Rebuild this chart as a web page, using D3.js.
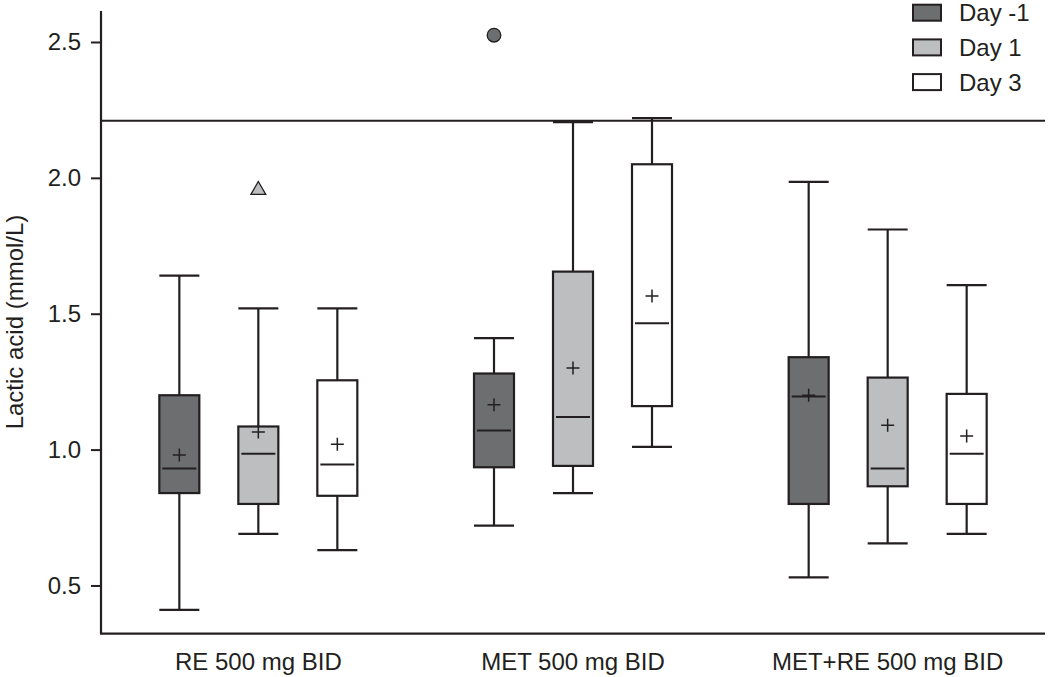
<!DOCTYPE html>
<html>
<head>
<meta charset="utf-8">
<script src="https://cdn.jsdelivr.net/npm/d3@7"></script>
<style>
  body { margin: 0; background: #fff; }
  svg { display: block; font-family: "Liberation Sans", Arial, Helvetica, sans-serif; }
</style>
</head>
<body>
<svg id="chart" width="1048" height="677"></svg>
<script>
// ---- data ----
const groups = ["RE 500 mg BID", "MET 500 mg BID", "MET+RE 500 mg BID"];
const days = ["Day -1", "Day 1", "Day 3"];
const yTicks = [0.5, 1.0, 1.5, 2.0, 2.5];
const refLine = 2.21;
// per group: one entry per day
const whiskerLow  = [[0.41, 0.69, 0.63], [0.72, 0.84, 1.01], [0.53, 0.655, 0.69]];
const q1          = [[0.84, 0.80, 0.83], [0.935, 0.94, 1.16], [0.80, 0.865, 0.80]];
const median      = [[0.93, 0.985, 0.945], [1.07, 1.12, 1.465], [1.195, 0.93, 0.985]];
const mean        = [[0.98, 1.065, 1.02], [1.165, 1.30, 1.565], [1.20, 1.09, 1.05]];
const q3          = [[1.20, 1.085, 1.255], [1.28, 1.655, 2.05], [1.34, 1.265, 1.205]];
const whiskerHigh = [[1.64, 1.52, 1.52], [1.41, 2.205, 2.22], [1.985, 1.81, 1.605]];
const outlierGroup = ["RE 500 mg BID", "MET 500 mg BID"];
const outlierDay = ["Day 1", "Day -1"];
const outlierValue = [1.955, 2.525];

// ---- styling ----
const ink = "#231f20";
const fills = {"Day -1": "#6d6e70", "Day 1": "#bcbec0", "Day 3": "#ffffff"};
const fontSize = 24;

const svg = d3.select("#chart");
const pLeft = 101, pRight = 1045, pTop = 11, pBottom = 633.7;

const x = d3.scaleBand().domain(groups).range([pLeft, pRight]).padding(0);
const xd = d3.scalePoint().domain(days).range([x.bandwidth() / 2 - 79, x.bandwidth() / 2 + 79]);
const y = d3.scaleLinear().domain([0.3225, 2.614]).range([pBottom, pTop]);
const boxW = 40;

// build box records
const boxes = [];
groups.forEach((g, gi) => days.forEach((d, di) => {
  boxes.push({g, d, lo: whiskerLow[gi][di], q1: q1[gi][di], med: median[gi][di],
              mean: mean[gi][di], q3: q3[gi][di], hi: whiskerHigh[gi][di],
              cx: x(g) + xd(d)});
}));

// reference line
svg.append("line")
  .attr("x1", pLeft).attr("x2", pRight)
  .attr("y1", y(refLine)).attr("y2", y(refLine))
  .attr("stroke", ink).attr("stroke-width", 2);

const bg = svg.append("g").attr("stroke", ink).attr("stroke-width", 2.2);
boxes.forEach(b => {
  const gg = bg.append("g");
  gg.append("line").attr("x1", b.cx).attr("x2", b.cx).attr("y1", y(b.hi)).attr("y2", y(b.q3));
  gg.append("line").attr("x1", b.cx).attr("x2", b.cx).attr("y1", y(b.q1)).attr("y2", y(b.lo));
  gg.append("line").attr("x1", b.cx - boxW / 2).attr("x2", b.cx + boxW / 2).attr("y1", y(b.hi)).attr("y2", y(b.hi));
  gg.append("line").attr("x1", b.cx - boxW / 2).attr("x2", b.cx + boxW / 2).attr("y1", y(b.lo)).attr("y2", y(b.lo));
  gg.append("rect")
    .attr("x", b.cx - boxW / 2).attr("width", boxW)
    .attr("y", y(b.q3)).attr("height", y(b.q1) - y(b.q3))
    .attr("fill", fills[b.d]);
  gg.append("line").attr("x1", b.cx - 17).attr("x2", b.cx + 17)
    .attr("y1", y(b.med)).attr("y2", y(b.med)).attr("stroke-width", 2);
  gg.append("path")
    .attr("d", `M${b.cx - 6.5},${y(b.mean)}H${b.cx + 6.5}M${b.cx},${y(b.mean) - 6.5}V${y(b.mean) + 6.5}`)
    .attr("stroke-width", 1.5).attr("fill", "none");
});

// outliers
outlierValue.forEach((v, i) => {
  const cx = x(outlierGroup[i]) + xd(outlierDay[i]);
  const cy = y(v);
  if (outlierDay[i] === "Day 1") {
    svg.append("path")
      .attr("d", d3.symbol().type(d3.symbolTriangle).size(95)())
      .attr("transform", `translate(${cx},${cy})`)
      .attr("fill", fills["Day 1"]).attr("stroke", ink).attr("stroke-width", 1.3);
  } else {
    svg.append("circle").attr("cx", cx).attr("cy", cy).attr("r", 6.8)
      .attr("fill", fills["Day -1"]).attr("stroke", ink).attr("stroke-width", 1.3);
  }
});

// y axis
const yAxis = d3.axisLeft(y).tickValues(yTicks).tickFormat(d3.format(".1f")).tickSize(10).tickPadding(10);
const ya = svg.append("g").attr("transform", `translate(${pLeft},0)`).call(yAxis);
ya.select(".domain").attr("d", `M0,${pTop}V${pBottom}`).attr("stroke", ink).attr("stroke-width", 2.2);
ya.selectAll(".tick line").attr("stroke", ink).attr("stroke-width", 2);
ya.selectAll(".tick text").attr("fill", ink).attr("font-size", fontSize).attr("font-family", "Liberation Sans, Arial, sans-serif");

// x axis
const xAxis = d3.axisBottom(x).tickSize(0).tickPadding(19);
const xa = svg.append("g").attr("transform", `translate(0,${pBottom})`).call(xAxis);
xa.select(".domain").attr("d", `M${pLeft - 1},0H${pRight}`).attr("stroke", ink).attr("stroke-width", 2.2);
xa.selectAll(".tick text").attr("fill", ink).attr("font-size", fontSize).attr("font-family", "Liberation Sans, Arial, sans-serif");

// y label
svg.append("text")
  .attr("transform", `translate(23,322) rotate(-90)`)
  .attr("text-anchor", "middle")
  .attr("font-size", fontSize).attr("fill", ink)
  .text("Lactic acid (mmol/L)");

// legend
const lg = svg.append("g").attr("transform", "translate(913,4.7)");
days.forEach((d, i) => {
  const row = lg.append("g").attr("transform", `translate(0,${i * 34.7})`);
  row.append("rect").attr("width", 28).attr("height", 16)
    .attr("fill", fills[d]).attr("stroke", ink).attr("stroke-width", 2);
  row.append("text").attr("x", 46).attr("y", 8).attr("dy", "0.35em")
    .attr("font-size", fontSize).attr("fill", ink).text(d);
});
</script>
</body>
</html>
